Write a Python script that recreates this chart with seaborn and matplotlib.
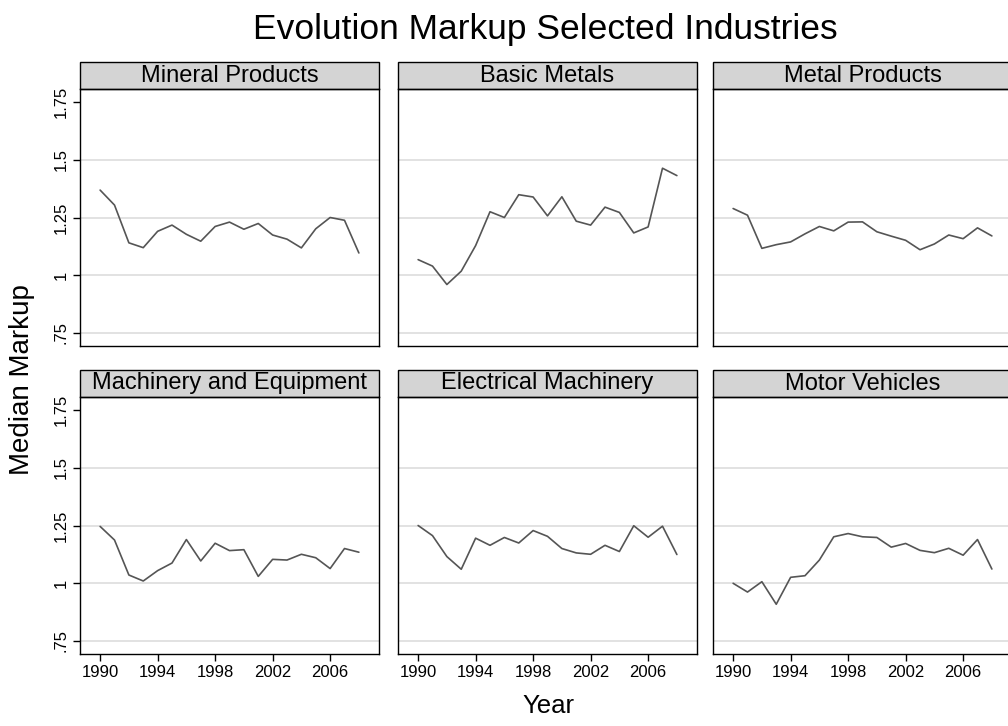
import seaborn as sns
import matplotlib.pyplot as plt
import matplotlib.patches as mpatches
import pandas as pd

years = list(range(1990, 2009))

industries = ['Mineral Products', 'Basic Metals', 'Metal Products',
              'Machinery and Equipment', 'Electrical Machinery', 'Motor Vehicles']

mineral = [1.369, 1.304, 1.140, 1.119, 1.190, 1.217, 1.177, 1.147, 1.211, 1.230,
           1.199, 1.224, 1.174, 1.156, 1.118, 1.201, 1.250, 1.238, 1.096]
basic_metals = [1.067, 1.039, 0.959, 1.017, 1.128, 1.275, 1.250, 1.349, 1.339, 1.257,
                1.340, 1.234, 1.217, 1.295, 1.272, 1.183, 1.209, 1.464, 1.432]
metal_products = [1.289, 1.260, 1.116, 1.132, 1.144, 1.179, 1.211, 1.192, 1.230, 1.231,
                  1.188, 1.169, 1.151, 1.110, 1.135, 1.174, 1.158, 1.205, 1.170]
machinery = [1.246, 1.187, 1.035, 1.009, 1.054, 1.087, 1.189, 1.096, 1.173, 1.141,
             1.145, 1.029, 1.103, 1.100, 1.125, 1.110, 1.063, 1.150, 1.134]
electrical = [1.250, 1.206, 1.115, 1.060, 1.195, 1.164, 1.198, 1.174, 1.228, 1.203,
              1.150, 1.131, 1.125, 1.164, 1.137, 1.249, 1.199, 1.247, 1.124]
motor = [0.999, 0.961, 1.006, 0.908, 1.025, 1.032, 1.100, 1.201, 1.215, 1.201,
         1.198, 1.156, 1.172, 1.142, 1.132, 1.151, 1.121, 1.189, 1.061]

y_ticks = [0.75, 1.0, 1.25, 1.5, 1.75]
y_labels = ['.75', '1', '1.25', '1.5', '1.75']
x_ticks = [1990, 1994, 1998, 2002, 2006]

series = [mineral, basic_metals, metal_products, machinery, electrical, motor]
df = pd.concat([pd.DataFrame({'Year': years, 'Markup': s, 'Industry': name})
                for name, s in zip(industries, series)], ignore_index=True)

sns.set_theme(style='white')
plt.rcParams['font.family'] = ['Liberation Sans', 'DejaVu Sans']
plt.rcParams['text.color'] = 'black'

W, H = 1008, 726
g = sns.FacetGrid(df, col='Industry', col_wrap=3, col_order=industries,
                  sharex=True, sharey=True, despine=False)
g.figure.set_size_inches(W / 100, H / 100)
g.map_dataframe(sns.lineplot, x='Year', y='Markup', color='#555555', linewidth=1.2)

# panel positions in pixels (left, top of plot area)
lefts = [80, 398, 713]
tops = [89, 397]
pw, ph, head = 299, 257, 27

for i, ax in enumerate(g.axes.flat):
    r, c = divmod(i, 3)
    ax.set_position([lefts[c] / W, (H - tops[r] - ph) / H, pw / W, ph / H])
    ax.set_xlim(1988.6, 2009.4)
    ax.set_ylim(0.692, 1.808)
    for v in y_ticks[:-1]:
        ax.axhline(v, color='#dddddd', linewidth=1.2, zorder=0)
    ax.set_title('')
    ax.set_xlabel('')
    ax.set_ylabel('')
    for sp in ax.spines.values():
        sp.set_color('black')
        sp.set_linewidth(1.0)
    ax.set_yticks(y_ticks)
    ax.set_xticks(x_ticks)
    ax.tick_params(axis='both', direction='out', length=5, width=1, color='black',
                   labelsize=12, labelcolor='black')
    if c == 0:
        ax.set_yticklabels(y_labels, rotation=90, va='center')
        ax.tick_params(axis='y', left=True, labelleft=True, pad=3)
    else:
        ax.tick_params(axis='y', left=False, labelleft=False)
    if r == 1:
        ax.set_xticklabels([str(x) for x in x_ticks])
        ax.tick_params(axis='x', bottom=True, labelbottom=True, pad=3)
    else:
        ax.tick_params(axis='x', bottom=False, labelbottom=False)
    # strip header
    hh = head / ph
    rect = mpatches.Rectangle((0, 1), 1, hh, transform=ax.transAxes, clip_on=False,
                              facecolor='#d4d4d4', edgecolor='black', linewidth=1.0)
    ax.add_patch(rect)
    ax.text(0.5, 1 + hh / 2, industries[i], transform=ax.transAxes,
            ha='center', va='center', fontsize=17, color='black')

g.figure.text(545 / W, 1 - 30 / H, 'Evolution Markup Selected Industries',
              ha='center', va='center', fontsize=25.5, color='black')
g.figure.text(548 / W, 20 / H, 'Year', ha='center', va='center', fontsize=18.5)
g.figure.text(22 / W, 1 - 380 / H, 'Median Markup', ha='center', va='center',
              rotation=90, fontsize=20)

g.figure.savefig('out.png', dpi=100, facecolor='white')
